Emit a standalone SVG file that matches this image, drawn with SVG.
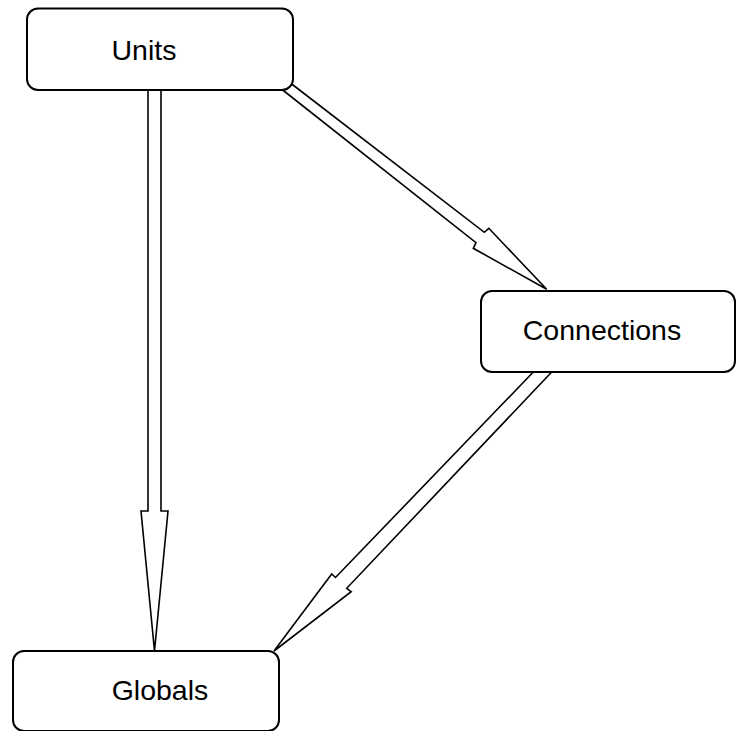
<svg xmlns="http://www.w3.org/2000/svg" width="737" height="731" viewBox="0 0 737 731">
  <style>
    .box { fill: #ffffff; stroke: #000000; stroke-width: 2; }
    .label { font-family: "Liberation Sans", Arial, sans-serif; font-size: 28.5px; fill: #000000; }
    .arrow { fill: none; stroke: #000000; stroke-width: 1.6; stroke-linejoin: miter; }
  </style>
  <rect width="737" height="731" fill="#ffffff"/>

  <g id="connectors">
    <!-- Units to Globals -->
    <polyline class="arrow" points="148,90 148,511 141,511 154.5,651 168,511 161,511 161,90"/>
    <!-- Units to Connections -->
    <polyline class="arrow" points="282.7,90 476,242.7 473.3,248.3 546.7,289.3 488.8,228.3 484.3,232.3 291.7,84"/>
    <!-- Connections to Globals -->
    <polyline class="arrow" points="533.3,372 335.5,577.5 331.7,574 274,651 351.2,591.7 346.7,588.3 551.7,372"/>
  </g>

  <g id="units">
    <rect class="box" x="27" y="8.5" width="266" height="81.5" rx="11"/>
    <text class="label" x="144" y="60" text-anchor="middle">Units</text>
  </g>

  <g id="connections">
    <rect class="box" x="481" y="291" width="254" height="81" rx="11"/>
    <text class="label" x="602" y="340" text-anchor="middle">Connections</text>
  </g>

  <g id="globals">
    <rect class="box" x="13" y="651" width="266" height="80" rx="11"/>
    <text class="label" x="160" y="700" text-anchor="middle">Globals</text>
  </g>
</svg>
